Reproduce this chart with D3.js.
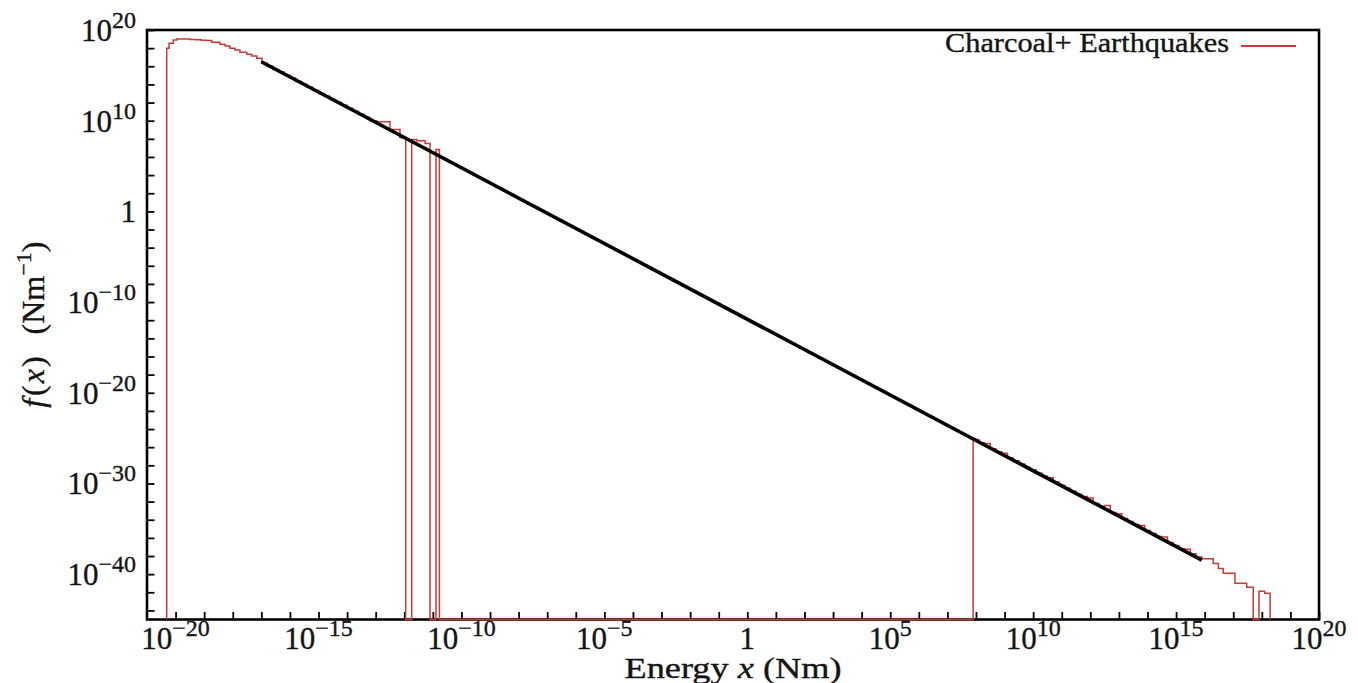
<!DOCTYPE html>
<html>
<head>
<meta charset="utf-8">
<script src="https://cdn.jsdelivr.net/npm/d3@7"></script>
<style>
  body { margin: 0; background: #fff; }
  svg { display: block; }
  text { font-family: "Liberation Serif", "Times New Roman", serif; fill: #141414; stroke: #141414; stroke-width: 0.35px; }
</style>
</head>
<body>
<svg id="chart" width="1358" height="683"></svg>
<script>
// histogram bins: log10 of bin edges (Nm) and log10 f(x) per bin, null = empty bin
const charcoalEdges = [-20.31, -20.23, -20.08, -19.96, -19.73, -19.50, -19.30, -19.10, -18.92, -18.74,
  -18.45, -18.27, -18.10, -17.92, -17.75, -17.51, -17.34, -17.16, -16.98, -16.80, -16.60, -16.40,
  -16.20, -16.00, -15.80, -15.60, -15.40, -15.20, -15.00, -14.80, -14.60, -14.40, -14.20, -14.00,
  -13.80, -13.60, -13.40, -13.20, -12.96, -12.73, -12.50, -12.15, -11.95, -11.74, -11.56, -11.27,
  -11.10, -10.89, -10.77]
const charcoalLogF = [17.98, 18.53, 18.90, 19.02, 19.00, 18.95, 18.92, 18.88, 18.85, 18.64,
  18.42, 18.23, 17.98, 17.79, 17.54, 17.32, 17.13, 16.88, 16.35, 16.02, 15.65, 15.36,
  15.00, 14.70, 14.32, 14.03, 13.70, 13.35, 13.00, 12.70, 12.35, 12.02, 11.70, 11.38,
  11.05, 10.70, 10.38, 10.00, 9.88, 9.88, 9.04, 8.11, null, 7.94, 7.78, 7.49,
  null, 6.83]

const quakeEdges = [7.90, 8.10, 8.30, 8.50, 8.70, 8.90, 9.10, 9.30, 9.50, 9.70, 9.90, 10.10, 10.30,
  10.50, 10.70, 10.90, 11.10, 11.30, 11.50, 11.70, 11.90, 12.10, 12.30, 12.50, 12.70, 12.90, 13.10,
  13.30, 13.50, 13.70, 13.90, 14.10, 14.30, 14.50, 14.70, 14.90, 15.10, 15.30, 15.50, 15.70, 15.90,
  16.30, 16.48, 16.65, 17.06, 17.47, 17.70, 17.90, 18.10, 18.29]
const quakeLogF = [-25.15, -25.50, -25.60, -26.18, -26.50, -26.66, -27.20, -27.50, -27.85, -28.20,
  -28.50, -28.85, -29.20, -29.37, -29.80, -30.20, -30.52, -30.85, -31.20, -31.45, -31.60, -32.20,
  -32.50, -32.43, -33.20, -33.35, -33.85, -34.20, -34.52, -34.64, -35.20, -35.52, -35.85, -35.90,
  -36.50, -36.85, -37.20, -37.25, -37.75, -38.10,
  -38.31, -38.83, -39.38, -39.90, -41.00, -41.44, null, -41.89, -42.11]

// power-law fit, end points in log10
const fitLogX = [-17.0, 15.9]
const fitLogF = [16.5, -38.45]

const xLabelExps = [-20, -15, -10, -5, 0, 5, 10, 15, 20]
const yLabelExps = [20, 10, 0, -10, -20, -30, -40]
const xTickExps = d3.range(-20, 21)
const yTickExps = d3.range(-44, 21, 2)
const legendLabel = 'Charcoal+ Earthquakes'

const red = '#c63a36'
let mLeft = 147, mRight = 1319, mTop = 30, mBottom = 619.5

let svg = d3.select('#chart')

let x = d3.scaleLog().domain([1e-21, 1e20]).range([mLeft, mRight])
let y = d3.scaleLog().domain([1e-45, 1e20]).range([mBottom, mTop])
let p10 = e => Math.pow(10, e)

// inward ticks
svg.append('g')
  .attr('transform', `translate(0,${mBottom})`)
  .call(d3.axisBottom(x).tickValues(xTickExps.map(p10)).tickSize(-7.5).tickFormat(''))
  .call(g => g.select('.domain').remove())
  .call(g => g.selectAll('line').attr('stroke', '#000').attr('stroke-width', 1.8))

svg.append('g')
  .attr('transform', `translate(${mLeft},0)`)
  .call(d3.axisLeft(y).tickValues(yTickExps.map(p10)).tickSize(-7.5).tickFormat(''))
  .call(g => g.select('.domain').remove())
  .call(g => g.selectAll('line').attr('stroke', '#000').attr('stroke-width', 1.8))

svg.append('rect')
  .attr('x', mLeft).attr('y', mTop)
  .attr('width', mRight - mLeft).attr('height', mBottom - mTop)
  .attr('fill', 'none').attr('stroke', '#000').attr('stroke-width', 2.6)

function stepPoints (edges, logF) {
  let pts = [[x(p10(edges[0])), mBottom]]
  logF.forEach((v, i) => {
    let yy = v === null ? mBottom : y(p10(v))
    pts.push([x(p10(edges[i])), yy])
    pts.push([x(p10(edges[i + 1])), yy])
  })
  pts.push([x(p10(edges[edges.length - 1])), mBottom])
  return pts
}

let histPts = stepPoints(charcoalEdges, charcoalLogF).concat(stepPoints(quakeEdges, quakeLogF))

svg.append('path')
  .attr('d', d3.line()(histPts))
  .attr('fill', 'none')
  .attr('stroke', red)
  .attr('stroke-width', 1.5)

let fit = fitLogX.map((lx, i) => [x(p10(lx)), y(p10(fitLogF[i]))])
svg.append('path')
  .attr('d', d3.line()(fit))
  .attr('fill', 'none')
  .attr('stroke', '#000')
  .attr('stroke-width', 3.6)

function expLabel (sel, e) {
  if (e === 0) { sel.text('1'); return }
  sel.append('tspan').text('10')
  sel.append('tspan').attr('dy', -13).attr('font-size', 24)
    .text(e < 0 ? '\u2212' + (-e) : String(e))
}

svg.append('g').selectAll('text').data(xLabelExps).enter()
  .append('text')
  .attr('x', d => x(p10(d)))
  .attr('y', 649)
  .attr('text-anchor', 'middle')
  .attr('font-size', 31)
  .each(function (d) { expLabel(d3.select(this), d) })

svg.append('g').selectAll('text').data(yLabelExps).enter()
  .append('text')
  .attr('x', 136)
  .attr('y', d => y(p10(d)) + 11)
  .attr('text-anchor', 'end')
  .attr('font-size', 31)
  .each(function (d) { expLabel(d3.select(this), d) })

// axis titles
let xt = svg.append('text')
  .attr('x', (mLeft + mRight) / 2).attr('y', 678)
  .attr('text-anchor', 'middle')
  .attr('font-size', 30)
  .attr('textLength', 217)
  .attr('lengthAdjust', 'spacingAndGlyphs')
xt.append('tspan').text('Energy ')
xt.append('tspan').attr('font-style', 'italic').text('x')
xt.append('tspan').text(' (Nm)')

let yt = svg.append('text')
  .attr('transform', `translate(44,${(mTop + mBottom) / 2}) rotate(-90)`)
  .attr('text-anchor', 'middle')
  .attr('font-size', 32)
yt.append('tspan').attr('font-style', 'italic').text('f')
yt.append('tspan').attr('dx', 3).text('(')
yt.append('tspan').attr('dx', 2).attr('font-style', 'italic').text('x')
yt.append('tspan').attr('dx', 2).text(')')
yt.append('tspan').attr('dx', 14).text(' (Nm')
yt.append('tspan').attr('dy', -13).attr('font-size', 22).text('\u22121')
yt.append('tspan').attr('dy', 13).text(')')

// legend
svg.append('text')
  .attr('x', 1229).attr('y', 52)
  .attr('text-anchor', 'end')
  .attr('font-size', 27)
  .attr('textLength', 284)
  .attr('lengthAdjust', 'spacingAndGlyphs')
  .text(legendLabel)

svg.append('line')
  .attr('x1', 1241).attr('x2', 1296)
  .attr('y1', 46).attr('y2', 46)
  .attr('stroke', red).attr('stroke-width', 1.8)
</script>
</body>
</html>
